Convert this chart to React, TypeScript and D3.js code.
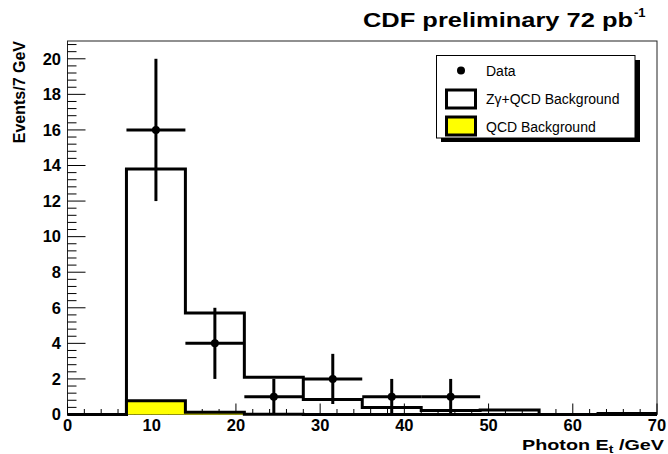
import React from 'react';
import * as d3 from 'd3';

// bin edges (GeV) of the histograms
const binEdges = [0, 7, 14, 21, 28, 35, 42, 49, 56, 63, 70];
// Zgamma + QCD background, per bin
const zgQcdBkg = [0, 13.8, 5.7, 2.1, 0.85, 0.4, 0.22, 0.25, 0, 0.06];
// QCD background, per bin
const qcdBkg = [0, 0.78, 0.12, 0.02, 0, 0, 0, 0, 0, 0];
// data points
const dataEt = [10.5, 17.5, 24.5, 31.5, 38.5, 45.5];
const dataEvents = [16, 4, 1, 2, 1, 1];
const dataErr = [4, 2, 1, 1.41, 1, 1];
const dataHalfWidth = 3.5;

const xTicks = [0, 10, 20, 30, 40, 50, 60, 70];
const yTicks = [0, 2, 4, 6, 8, 10, 12, 14, 16, 18, 20];

const W = 668;
const H = 454;
const margin = { top: 41, right: 11, bottom: 39.5, left: 67.5 };
const FONT = '"Liberation Sans", Arial, Helvetica, sans-serif';

const App = () => {
  const x = d3.scaleLinear().domain([0, 70]).range([margin.left, W - margin.right]);
  const y = d3.scaleLinear().domain([0, 21]).range([H - margin.bottom, margin.top]);

  // step outline of a histogram
  const stepPath = (vals: number[]) => {
    const pts: [number, number][] = vals.map((v, i) => [binEdges[i], v]);
    pts.push([binEdges[binEdges.length - 1], vals[vals.length - 1]]);
    return d3.line<[number, number]>()
      .x(d => x(d[0]))
      .y(d => y(d[1]))
      .curve(d3.curveStepAfter)(pts) || '';
  };

  const filledPath = (vals: number[]) => {
    const pts: [number, number][] = vals.map((v, i) => [binEdges[i], v]);
    pts.push([binEdges[binEdges.length - 1], vals[vals.length - 1]]);
    return d3.area<[number, number]>()
      .x(d => x(d[0]))
      .y0(y(0))
      .y1(d => y(d[1]))
      .curve(d3.curveStepAfter)(pts) || '';
  };

  const xMinor = d3.range(0, 70.001, 2);
  const yMinor = d3.range(0, 21.001, 0.4);

  const x0 = x(0), x1 = x(70), yb = y(0), yt = y(21);

  return (
    <svg width={W} height={H} style={{ position: 'absolute', left: 0, top: 0, background: '#fff' }}
      fontFamily={FONT}>
      <rect x={0} y={0} width={W} height={H} fill="#fff" />

      {/* frame */}
      <rect x={x0} y={yt} width={x1 - x0} height={yb - yt} fill="none" stroke="#222" strokeWidth={1} />

      {/* x ticks */}
      {xMinor.map(t => (
        <line key={'xm' + t} x1={x(t)} x2={x(t)} y1={yb} y2={yb - (t % 10 === 0 ? 11 : 5.5)}
          stroke="#000" strokeWidth={1} />
      ))}
      {/* y ticks */}
      {yMinor.map((t, i) => (
        <line key={'ym' + i} x1={x0} x2={x0 + (i % 5 === 0 ? 18 : 9)} y1={y(t)} y2={y(t)}
          stroke="#000" strokeWidth={1} />
      ))}

      {/* Zgamma+QCD background */}
      <path d={stepPath(zgQcdBkg)} fill="none" stroke="#000" strokeWidth={3} />
      {/* QCD background */}
      <path d={filledPath(qcdBkg)} fill="#ffff00" stroke="none" />
      <path d={stepPath(qcdBkg)} fill="none" stroke="#000" strokeWidth={3} />

      {/* data */}
      {dataEt.map((e, i) => (
        <g key={'d' + i} stroke="#000" strokeWidth={3}>
          <line x1={x(e - dataHalfWidth)} x2={x(e + dataHalfWidth)} y1={y(dataEvents[i])} y2={y(dataEvents[i])} />
          <line x1={x(e)} x2={x(e)} y1={y(dataEvents[i] - dataErr[i])} y2={y(dataEvents[i] + dataErr[i])} />
          <circle cx={x(e)} cy={y(dataEvents[i])} r={4} fill="#000" stroke="none" />
        </g>
      ))}

      {/* tick labels */}
      {xTicks.map(t => (
        <text key={'xl' + t} x={x(t)} y={431} textAnchor="middle" fontSize={16.5} fontWeight="bold">{t}</text>
      ))}
      {yTicks.map(t => (
        <text key={'yl' + t} x={61} y={y(t)} dy="0.35em" textAnchor="end" fontSize={16.5} fontWeight="bold">{t}</text>
      ))}

      {/* axis titles */}
      <text x={522} y={450} fontSize={15.5} fontWeight="bold" textLength={142} lengthAdjust="spacingAndGlyphs">
        Photon E<tspan fontSize={11} dy={3}>t</tspan><tspan dy={-3}> /GeV</tspan>
      </text>
      <text transform="translate(25,41) rotate(-90)" textAnchor="end" fontSize={16} fontWeight="bold">
        Events/7 GeV
      </text>

      {/* title */}
      <text x={363} y={27} fontSize={21} fontWeight="bold" textLength={270} lengthAdjust="spacingAndGlyphs">
        CDF preliminary 72 pb
      </text>
      <text x={634} y={17} fontSize={13} fontWeight="bold">-1</text>

      {/* legend */}
      <rect x={441} y={60} width={199} height={82} fill="#000" />
      <rect x={436.5} y={55.5} width={198.5} height={82.5} fill="#fff" stroke="#000" strokeWidth={1} />
      <circle cx={461} cy={70.5} r={4} fill="#000" />
      <text x={486} y={75.5} fontSize={14}>Data</text>
      <rect x={446.5} y={90} width={29} height={18} fill="#fff" stroke="#000" strokeWidth={3} />
      <text x={486} y={104} fontSize={14}>Zγ+QCD Background</text>
      <rect x={446.5} y={117} width={29} height={18} fill="#ffff00" stroke="#000" strokeWidth={3} />
      <text x={486} y={131.5} fontSize={14}>QCD Background</text>
    </svg>
  );
};

export default App;
